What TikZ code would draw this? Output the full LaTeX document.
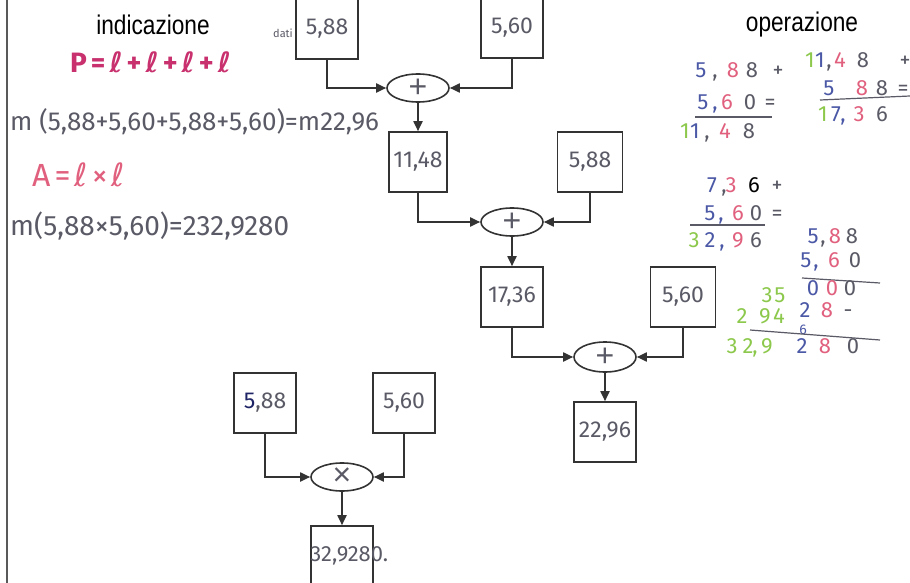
\documentclass[tikz,border=0pt]{standalone}
\usepackage{fontspec}
\setmainfont{Liberation Sans}
\newfontfamily\labelfont[FakeStretch=0.84]{Liberation Sans}
\newfontfamily\handfont{Fira Sans}
\newfontfamily\symfont{DejaVu Sans}
\usetikzlibrary{arrows.meta,shapes.geometric}

\definecolor{inkgray}{HTML}{5A5A66}
\definecolor{inkblue}{HTML}{4B58A6}
\definecolor{inkdark}{HTML}{1E2466}
\definecolor{inkpink}{HTML}{E0607E}
\definecolor{inkmag}{HTML}{C8306E}
\definecolor{inkgreen}{HTML}{8CC84B}

% the side of the square, written as a script l
\newcommand{\lside}{{\symfont ℓ}}
\newcommand{\gap}{\hspace{4pt}}

\tikzset{
  heading/.style={font=\labelfont\fontsize{27}{27}\selectfont, inner sep=0pt},
  valbox/.style={draw=black!80, line width=1.6pt, minimum width=62pt, minimum height=60pt,
    inner sep=0pt, text=inkgray, font=\handfont\fontsize{23}{23}\selectfont},
  opnode/.style={ellipse, draw=black!80, line width=1.6pt, minimum width=62pt, minimum height=28pt,
    inner sep=0pt, text=inkgray, font=\setmainfont{Liberation Sans}\fontsize{32}{32}\selectfont},
  flow/.style={draw=black!80, line width=1.8pt, -{Triangle[length=10pt,width=9pt]}},
  hand/.style={font=\handfont\fontsize{26}{26}\selectfont, inner sep=0pt, anchor=base west},
  digit/.style={font=\handfont\fontsize{22}{22}\selectfont, inner sep=0pt, anchor=base},
}

% one row of a written column sum: name, baseline, entries x/colour/digit
\newcommand{\digitrow}[3]{%
  \foreach \x/\c/\d [count=\k] in {#3}
    \node[digit, text=\c] (#1-\k) at (\x,#2) {\d};}

\begin{document}
\begin{tikzpicture}[x=1pt,y=-1pt]
  \useasboundingbox (0,0) rectangle (910,583);

  % left margin of the sheet
  \draw[line width=1.4pt, black!65] (7,-5) -- (7,590);

  % column headings
  \node[heading] (indic) at (153,25) {indicazione};
  \node[heading] (oper) at (802,25) {operazione};

  % formulas on the left
  \node[hand, text=inkmag, font=\handfont\bfseries\fontsize{28}{28}\selectfont] (perim) at (70,73)
    {P\gap=\gap\lside\gap+\gap\lside\gap+\gap\lside\gap+\gap\lside};
  \node[hand, text=inkgray] (perimval) at (10,131) {m (5,88+5,60+5,88+5,60)=m22,96};
  \node[hand, text=inkpink, font=\handfont\fontsize{32}{32}\selectfont] (area) at (32,186)
    {A\gap=\gap\lside\gap×\gap\lside};
  \node[hand, text=inkgray, font=\handfont\fontsize{28}{28}\selectfont] (areaval) at (10,235) {m(5,88×5,60)=232,9280};

  % perimeter chain
  \node[valbox] (a1) at (327,29) {5,88};
  \node[font=\handfont\fontsize{11}{11}\selectfont, text=inkgray, inner sep=0pt] (dati) at (283,33) {dati};
  \node[valbox] (b1) at (512,28) {5,60};
  \node[opnode] (p1) at (418,88) {+};
  \node[valbox, minimum width=58pt] (s1) at (418,162) {11,48};
  \node[valbox, minimum width=65pt] (b2) at (590,162) {5,88};
  \node[opnode] (p2) at (512,222) {+};
  \node[valbox] (s2) at (512,297) {17,36};
  \node[valbox, minimum width=65pt] (b3) at (683,297) {5,60};
  \node[opnode, minimum height=30pt] (p3) at (605,357) {+};
  \node[valbox] (s3) at (605,432) {22,96};

  \draw[flow] (a1.south) |- (p1.west);
  \draw[flow] (b1.south) |- (p1.east);
  \draw[flow] (p1.south) -- (s1.north);
  \draw[flow] (s1.south) |- (p2.west);
  \draw[flow] (b2.south) |- (p2.east);
  \draw[flow] (p2.south) -- (s2.north);
  \draw[flow] (s2.south) |- (p3.west);
  \draw[flow] (b3.south) |- (p3.east);
  \draw[flow] (p3.south) -- (s3.north);

  % area chain
  \node[valbox] (c1) at (265,403) {\textcolor{inkdark}{5},88};
  \node[valbox] (c2) at (404,403) {5,60};
  \node[opnode] (m1) at (342,477) {×};
  \node[valbox] (r1) at (342,556) {};
  \node[font=\handfont\fontsize{22}{22}\selectfont, text=inkgray, inner sep=0pt, anchor=west] (r1val) at (r1.west) {32,9280.};

  \draw[flow] (c1.south) |- (m1.west);
  \draw[flow] (c2.south) |- (m1.east);
  \draw[flow] (m1.south) -- (r1.north);

  % written sums on the right
  \digitrow{ua}{78}{701/inkblue/5, 715/inkgray/{,}, 733/inkpink/8, 752/inkgray/8, 778/inkgray/+}
  \digitrow{ub}{110}{703/inkblue/5, 715/inkblue/{,}, 727/inkpink/6, 750/inkgray/0, 770/inkgray/=}
  \draw[inkgray, line width=1.2pt] (695,117) -- (772,117);
  \digitrow{uc}{139}{685/inkgreen/1, 695/inkblue/1, 707/inkgray/{,}, 725/inkpink/4, 749/inkgray/8}

  \digitrow{va}{68}{810/inkgreen/1, 820/inkblue/1, 829/inkgray/{,}, 840/inkpink/4, 863/inkgray/8, 905/inkgray/+}
  \digitrow{vb}{96}{829/inkblue/5, 862/inkpink/8, 882/inkgray/8, 903/inkgray/=}
  \draw[inkgray, line width=1.2pt] (820,100) -- (910,96);
  \digitrow{vc}{122}{823/inkgreen/1, 836/inkblue/7, 843/inkblue/{,}, 859/inkpink/3, 882/inkgray/6}

  \digitrow{wa}{192}{712/inkblue/7, 724/inkgray/{,}, 731/inkpink/3, 754/black/6, 777/inkgray/+}
  \digitrow{wb}{220}{710/inkblue/5, 721/inkblue/{,}, 738/inkpink/6, 756/inkgray/0, 777/inkgray/=}
  \draw[inkgray, line width=1.2pt] (690,225) -- (765,225);
  \digitrow{wc}{247}{694/inkgreen/3, 710/inkblue/2, 722/inkblue/{,}, 738/inkpink/9, 756/inkgray/6}

  % written product on the right
  \digitrow{xa}{243}{813/inkblue/5, 823/inkgray/{,}, 835/inkpink/8, 852/inkgray/8}
  \digitrow{xb}{267}{806/inkblue/5, 816/inkblue/{,}, 834/inkpink/6, 855/inkgray/0}
  \draw[inkgray, line width=1.2pt] (802,278) -- (880,283);
  \digitrow{xc}{295}{813/inkblue/0, 832/inkpink/0, 850/inkgray/0}
  \digitrow{xd}{302}{767/inkgreen/3, 780/inkgreen/5}
  \digitrow{xe}{317}{805/inkblue/2, 827/inkpink/8, 848/inkgray/-}
  \digitrow{xf}{323}{742/inkgreen/2, 765/inkgreen/9, 779/inkgreen/4}
  \node[digit, text=inkblue, font=\handfont\fontsize{14}{14}\selectfont] (xg) at (803,334) {6};
  \draw[inkgray, line width=1.2pt] (750,330) -- (880,340);
  \digitrow{xh}{353}{732/inkgreen/3, 748/inkgreen/2, 755/inkgreen/{,}, 767/inkgreen/9, 802/inkblue/2, 825/inkpink/8, 853/inkgray/0}
\end{tikzpicture}
\end{document}
